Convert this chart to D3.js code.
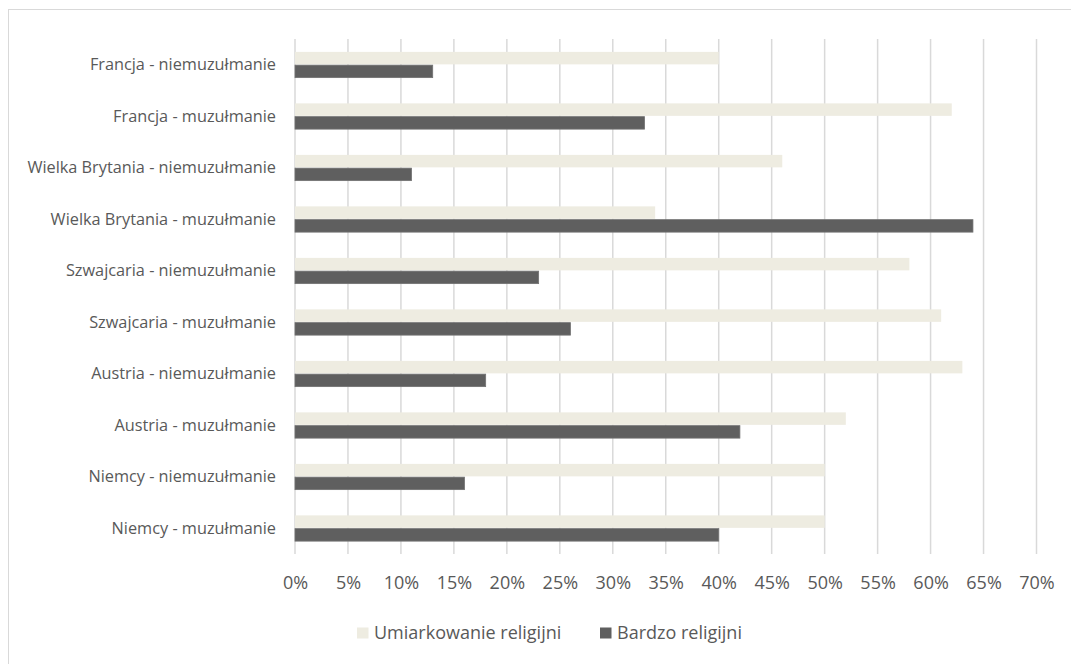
<!DOCTYPE html>
<html>
<head>
<meta charset="utf-8">
<script src="https://cdn.jsdelivr.net/npm/d3@7"></script>
<style>
  html, body { margin: 0; padding: 0; background: #fff; }
  svg { display: block; }
  text { font-family: "Open Sans", sans-serif; fill: #595959; }
</style>
</head>
<body>
<svg id="chart" width="1071" height="664"></svg>
<script>
const categories = [
  "Francja - niemuzułmanie",
  "Francja - muzułmanie",
  "Wielka Brytania - niemuzułmanie",
  "Wielka Brytania - muzułmanie",
  "Szwajcaria - niemuzułmanie",
  "Szwajcaria - muzułmanie",
  "Austria - niemuzułmanie",
  "Austria - muzułmanie",
  "Niemcy - niemuzułmanie",
  "Niemcy - muzułmanie"
];
const seriesNames = ["Umiarkowanie religijni", "Bardzo religijni"];
const umiarkowanie = [40, 62, 46, 34, 58, 61, 63, 52, 50, 50];
const bardzo = [13, 33, 11, 64, 23, 26, 18, 42, 16, 40];
const tickValues = [0, 5, 10, 15, 20, 25, 30, 35, 40, 45, 50, 55, 60, 65, 70];

const colors = ["#eeece1", "#5f5f5f"];

const svg = d3.select("#chart");

// outer frame (extends beyond the view on right/bottom)
svg.append("rect")
  .attr("x", 8.5).attr("y", 9.5)
  .attr("width", 1200).attr("height", 800)
  .attr("fill", "none").attr("stroke", "#d9d9d9").attr("stroke-width", 1);

const x = d3.scaleLinear().domain([0, 70]).range([295, 1036.5]);
const y = d3.scaleBand().domain(categories).range([39, 554]).paddingInner(0.5).paddingOuter(0.25);
const sub = d3.scaleBand().domain([0, 1]).range([0, y.bandwidth()]).paddingInner(0.06);

// gridlines
svg.append("g").selectAll("line").data(tickValues).join("line")
  .attr("x1", d => x(d)).attr("x2", d => x(d))
  .attr("y1", 39).attr("y2", 554)
  .attr("stroke", "#d9d9d9").attr("stroke-width", 1.5);

const data = categories.map((c, i) => ({ c, vals: [umiarkowanie[i], bardzo[i]] }));

const g = svg.append("g");
data.forEach(d => {
  d.vals.forEach((v, k) => {
    g.append("rect")
      .attr("x", x(0))
      .attr("y", y(d.c) + sub(k))
      .attr("width", x(v) - x(0))
      .attr("height", sub.bandwidth())
      .attr("fill", colors[k])
      .attr("stroke", k === 1 ? "#727272" : "none")
      .attr("stroke-width", k === 1 ? 0.8 : 0);
  });
});

// category labels
svg.append("g").selectAll("text").data(categories).join("text")
  .attr("x", 276)
  .attr("y", d => y(d) + y.bandwidth() / 2)
  .attr("dy", "0.33em")
  .attr("text-anchor", "end")
  .style("font-size", "16.3px")
  .text(d => d);

// x tick labels
const xAxis = d3.axisBottom(x).tickValues(tickValues).tickFormat(d => d + "%").tickSize(0).tickPadding(0);
const ax = svg.append("g").attr("transform", "translate(0,589)").call(xAxis);
ax.select(".domain").remove();
ax.selectAll("text")
  .attr("y", 0).attr("dy", 0)
  .style("font-size", "18px")
  .style("font-family", "'Open Sans', sans-serif")
  .attr("fill", "#595959");

// legend
const legendItems = [
  { name: seriesNames[0], color: colors[0], sx: 357 },
  { name: seriesNames[1], color: colors[1], sx: 600 }
];
const lg = svg.append("g");
legendItems.forEach(it => {
  lg.append("rect").attr("x", it.sx).attr("y", 627.5).attr("width", 11.5).attr("height", 11)
    .attr("fill", it.color);
  lg.append("text").attr("x", it.sx + 17).attr("y", 638.5)
    .style("font-size", "18px").text(it.name);
});
</script>
</body>
</html>
